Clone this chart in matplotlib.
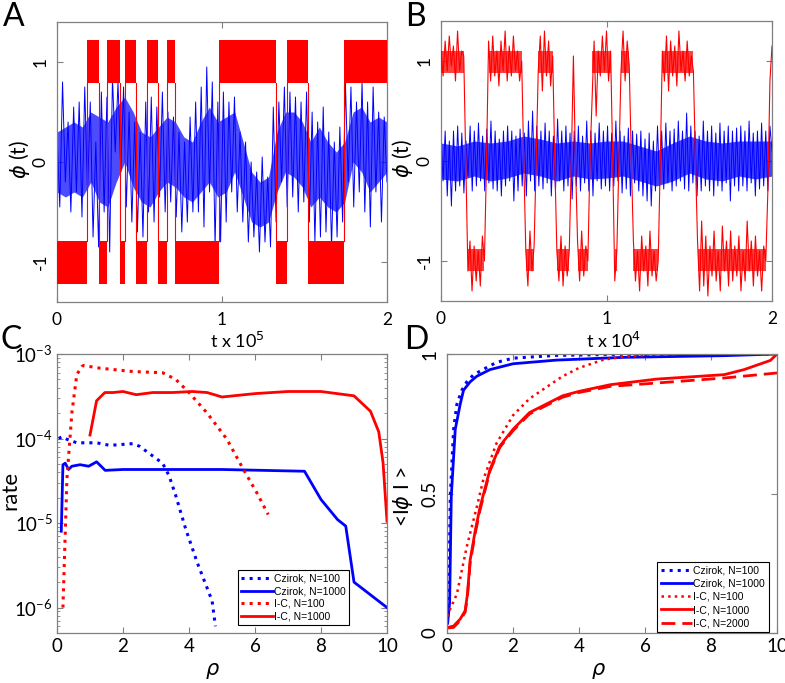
import numpy as np
import matplotlib
matplotlib.use("Agg")
import matplotlib.pyplot as plt
from matplotlib.ticker import LogLocator, NullFormatter, FixedLocator

plt.rcParams['font.family'] = ['Lato', 'DejaVu Sans']
plt.rcParams['axes.unicode_minus'] = False

RED = '#ff0000'
BLUE = '#0000ff'
SPINE = '#808080'

# ---------------- Panel A data (t in units of 1e5) ----------------
a_red_switch = [0, 0.182, 0.255, 0.305, 0.382, 0.412, 0.477, 0.545, 0.614,
                0.665, 0.717, 0.984, 1.329, 1.392, 1.521, 1.741, 2.0]
a_red_state = [-1, 1, -1, 1, -1, 1, -1, 1, -1, 1, -1, 1, -1, 1, -1, 1]
a_red_band = [0.79, 1.22]

a_blue = [0.3, -0.45, 0.8, -0.2, 0.4, -0.5, 0.55, -0.3, 0.6, -0.55,
          0.75, -0.3, 0.6, -0.75, 0.2, -0.85, 0.7, -0.5, 0.65, -0.9,
          0.85, 0.1, 0.8, -0.1, 0.75, -0.45, 0.5, -0.6, 0.4, -0.7,
          0.3, -0.75, 0.6, -0.5, 0.65, -0.6, 0.55, -0.35, 0.7, -0.5,
          0.5, -0.4, 0.45, -0.55, 0.3, -0.7, 0.2, -0.6, 0.45, -0.5,
          0.6, -0.5, 0.75, -0.65, 0.95, -0.3, 0.8, -0.85, 0.6, -0.8,
          0.7, -0.6, 0.6, -0.3, 0.65, -0.5, 0.3, -0.6, 0.2, -0.8,
          0.0, -0.75, -0.1, -0.9, 0.05, -0.8, -0.15, -0.85, 0.55, -0.6,
          0.6, -0.2, 0.75, -0.45, 0.7, -0.35, 0.65, -0.5, 0.6, -0.4,
          0.7, -0.6, 0.5, -0.8, 0.4, -0.75, 0.55, -0.7, 0.3, -0.85,
          0.2, -0.75, 0.35, -0.6, 0.8, -0.2, 0.75, -0.45, 0.6, -0.3,
          0.8, -0.5, 0.6, -0.65, 0.75, -0.3, 0.5, -0.6, 0.45, -0.2]
# dense core of the blue trace (lower / upper edge, 40 samples over 0..2)
a_blue_core_lo = [-0.3, -0.35, -0.3, -0.35, -0.2, -0.4, -0.45, -0.2, 0.0, -0.25,
                  -0.4, -0.45, -0.3, -0.2, -0.25, -0.35, -0.4, -0.3, -0.2, -0.35,
                  -0.3, -0.1, -0.35, -0.6, -0.65, -0.6, -0.3, -0.1, -0.15, -0.25,
                  -0.45, -0.35, -0.45, -0.5, -0.4, 0.0, -0.1, -0.3, -0.2, -0.1]
a_blue_core_hi = [0.3, 0.35, 0.4, 0.35, 0.5, 0.45, 0.4, 0.55, 0.65, 0.5,
                  0.3, 0.25, 0.35, 0.45, 0.4, 0.25, 0.2, 0.4, 0.55, 0.4,
                  0.45, 0.5, 0.2, -0.1, -0.2, -0.15, 0.3, 0.5, 0.5, 0.4,
                  0.2, 0.35, 0.2, 0.1, 0.2, 0.5, 0.55, 0.4, 0.45, 0.4]

# ---------------- Panel B data (t in units of 1e4) ----------------
b_blue = [0.25, -0.2, 0.3, -0.35, 0.2, -0.45, 0.3, -0.3, 0.35, -0.25, 0.28, -0.32, 0.2, -0.15, 0.35, -0.3,
          0.3, -0.25, 0.38, -0.2, 0.25, -0.3, 0.32, -0.22, 0.4, -0.28, 0.3, -0.3, 0.22, -0.35, 0.3, -0.25,
          0.35, -0.2, 0.3, -0.4, 0.25, -0.3, 0.32, -0.25, 0.28, -0.35, 0.4, -0.2, 0.5, -0.3, 0.35, -0.25,
          0.3, -0.28, 0.38, -0.22, 0.3, -0.35, 0.25, -0.3, 0.42, -0.2, 0.3, -0.3, 0.35, -0.25, 0.28, -0.38,
          0.3, -0.25, 0.35, -0.3, 0.25, -0.22, 0.4, -0.3, 0.3, -0.35, 0.28, -0.2, 0.38, -0.28, 0.3, -0.25,
          0.35, -0.3, 0.28, -0.25, 0.4, -0.2, 0.3, -0.32, 0.25, -0.28, 0.33, -0.35, 0.3, -0.22, 0.27, -0.3,
          0.3, -0.35, 0.22, -0.4, 0.28, -0.45, 0.2, -0.3, 0.35, -0.25, 0.3, -0.28, 0.38, -0.22, 0.3, -0.3,
          0.32, -0.25, 0.4, -0.2, 0.3, -0.28, 0.48, -0.3, 0.35, -0.22, 0.3, -0.35, 0.25, -0.3, 0.4, -0.25,
          0.3, -0.3, 0.35, -0.35, 0.28, -0.25, 0.38, -0.3, 0.3, -0.22, 0.35, -0.4, 0.3, -0.25, 0.33, -0.3,
          0.35, -0.25, 0.3, -0.3, 0.4, -0.22, 0.28, -0.35, 0.3, -0.28, 0.38, -0.25, 0.3, -0.3, 0.35, 0.1]
b_blue_core_lo = [-0.18, -0.2, -0.15, -0.2, -0.17, -0.12, -0.15, -0.2, -0.15, -0.18, -0.17,
                  -0.15, -0.2, -0.25, -0.2, -0.12, -0.18, -0.2, -0.15, -0.18, -0.15]
b_blue_core_hi = [0.18, 0.15, 0.2, 0.18, 0.2, 0.25, 0.22, 0.18, 0.2, 0.18, 0.2,
                  0.2, 0.15, 0.1, 0.18, 0.25, 0.2, 0.18, 0.2, 0.2, 0.2]

b_red = [1.1, 0.85, 1.2, 0.9, 1.25, 0.95, 1.15, 0.8, 1.3, 0.9, 1.1, 1.05,
         0.0,
         -1.1, -0.8, -1.3, -0.85, -1.2, -0.9, -1.25, -0.75, -1.0,
         0.0,
         1.2, 0.8, 1.25, 0.85, 1.1, 0.75, 1.2, 0.9, 1.3, 0.8, 1.15, 0.85, 1.25, 0.9, 1.1, 0.8, 1.0,
         0.0,
         -0.9, -1.25, -0.7, -1.1, -0.85,
         0.0,
         0.9, 1.25, 0.7, 1.3, 0.85, 1.2, 0.75, 1.05,
         0.0,
         -0.9, -1.2, -0.75, -1.25, -0.85, -1.15, -0.9,
         0.0, 1.05, 0.0,
         -0.8, -1.2, -0.7, -1.15, -0.85, -1.0,
         0.0,
         0.6, 1.2, 0.45, 1.1, 0.85, 1.25, 0.9, 1.3, 0.8, 1.1,
         0.0,
         -1.2, -0.9,
         0.0,
         0.9, 1.3, 0.8, 1.2, 0.95,
         0.0,
         -0.8, -1.2, -0.9, -1.3, -0.75, -1.1, -0.85, -1.25, -0.7, -1.15, -0.9, -1.2, -1.0,
         0.0,
         1.1, 0.8, 1.25, 0.7, 1.2, 0.85, 1.15, 0.75, 1.3, 0.9, 1.1, 0.8, 1.2, 0.85, 1.05, 0.9,
         0.0,
         -0.8, -1.3, -0.6, -1.25, -0.75, -1.35, -0.85, -1.15, -0.7, -1.2, -0.9, -1.3, -0.65, -1.1,
         -0.8, -1.25, -0.7, -1.2, -0.85, -1.15, -0.75, -1.3, -0.9, -1.2, -0.6, -1.1, -0.8, -1.25,
         -0.75, -1.15, -0.9, -1.3, -0.85, -1.0,
         -0.3, 0.8, 1.15]
# dense core of the red trace: segment start, end, state
b_red_seg_start = [0.0, 0.1625, 0.2875, 0.5125, 0.5875, 0.70, 0.825, 0.9125, 1.05, 1.0875, 1.1625, 1.3375, 1.55]
b_red_seg_end = [0.1375, 0.2625, 0.4875, 0.5625, 0.675, 0.775, 0.8875, 1.025, 1.0625, 1.1375, 1.3125, 1.525, 1.9625]
b_red_seg_state = [1, -1, 1, -1, 1, -1, -1, 1, -1, 1, -1, 1, -1]
b_red_core = [0.88, 1.1]

# ---------------- Panel C data (rate vs rho) ----------------
c_cz100_rho = [0.05, 0.15, 0.3, 0.6, 1.2, 1.6, 2.3, 2.5, 3.2, 3.4, 3.6, 3.9, 4.25, 4.55, 4.7, 4.8]
c_cz100_rate = [1.0e-4, 1.05e-4, 9.8e-5, 8.9e-5, 8.9e-5, 8.3e-5, 8.7e-5, 8.1e-5, 5.1e-5,
                3.6e-5, 2.1e-5, 8.5e-6, 3.4e-6, 1.7e-6, 1.2e-6, 6e-7]
c_cz1000_rho = [0.13, 0.18, 0.25, 0.35, 0.45, 0.7, 0.96, 1.2, 1.46, 2.0, 3.0, 5.0, 7.5,
                8.0, 8.5, 8.75, 9.0, 10.0]
c_cz1000_rate = [8e-6, 4.9e-5, 5.1e-5, 4.3e-5, 4.7e-5, 4.9e-5, 4.7e-5, 5.3e-5, 4.2e-5,
                 4.3e-5, 4.3e-5, 4.3e-5, 4.1e-5, 1.9e-5, 1.1e-5, 9.2e-6, 2.0e-6, 1.0e-6]
c_ic100_rho = [0.18, 0.3, 0.45, 0.6, 0.75, 0.8, 1.3, 2.3, 3.2, 3.6, 4.0, 4.55, 5.15, 5.65, 6.05, 6.4]
c_ic100_rate = [1e-6, 3.3e-5, 2.0e-4, 5.7e-4, 7.1e-4, 7.3e-4, 6.8e-4, 6.2e-4, 6.0e-4,
                5.0e-4, 3.5e-4, 2.0e-4, 9.8e-5, 4.3e-5, 2.3e-5, 1.26e-5]
c_ic1000_rho = [1.0, 1.2, 1.45, 1.7, 2.0, 2.4, 2.9, 3.5, 4.1, 4.55, 5.0, 6.0, 7.0, 8.0,
                9.0, 9.5, 9.75, 9.88, 10.0]
c_ic1000_rate = [1.1e-4, 2.8e-4, 3.5e-4, 3.5e-4, 3.6e-4, 3.3e-4, 3.5e-4, 3.5e-4, 3.6e-4,
                 3.5e-4, 3.1e-4, 3.4e-4, 3.6e-4, 3.6e-4, 3.2e-4, 2.1e-4, 1.2e-4, 5.2e-5, 1.05e-5]

# ---------------- Panel D data (<|phi|> vs rho) ----------------
d_cz100_rho = [0.02, 0.05, 0.1, 0.2, 0.3, 0.45, 0.6, 0.8, 1.1, 1.5, 2.0, 3.3, 5.35, 10.0]
d_cz100_val = [0.06, 0.1, 0.49, 0.73, 0.82, 0.87, 0.90, 0.925, 0.945, 0.97, 0.985, 0.995, 0.999, 1.0]
d_cz1000_rho = [0.02, 0.08, 0.13, 0.25, 0.4, 0.5, 0.7, 0.9, 1.3, 2.0, 3.3, 5.35, 8.4, 10.0]
d_cz1000_val = [0.035, 0.11, 0.49, 0.73, 0.82, 0.87, 0.90, 0.92, 0.944, 0.965, 0.978, 0.988, 0.994, 1.0]
d_ic100_rho = [0.0, 0.3, 0.6, 0.9, 1.1, 1.5, 2.0, 2.5, 3.0, 3.5, 4.0, 4.75, 5.35, 6.4]
d_ic100_val = [0.06, 0.14, 0.31, 0.45, 0.55, 0.68, 0.78, 0.84, 0.88, 0.92, 0.95, 0.98, 0.99, 1.0]
d_ic1000_rho = [0.02, 0.2, 0.4, 0.55, 0.62, 0.7, 0.86, 1.0, 1.3, 1.6, 2.0, 2.5, 3.0, 3.5,
                4.0, 4.95, 6.35, 8.4, 9.0, 9.8, 10.0]
d_ic1000_val = [0.02, 0.025, 0.05, 0.08, 0.14, 0.26, 0.37, 0.45, 0.585, 0.67, 0.73, 0.79,
                0.82, 0.85, 0.866, 0.89, 0.91, 0.926, 0.944, 0.977, 1.0]
d_ic2000_rho = [0.02, 0.2, 0.4, 0.55, 0.62, 0.7, 0.86, 1.0, 1.3, 1.6, 2.0, 2.5, 3.0, 3.5,
                4.0, 4.95, 6.35, 8.4, 10.0]
d_ic2000_val = [0.018, 0.02, 0.045, 0.075, 0.13, 0.25, 0.36, 0.44, 0.58, 0.665, 0.725, 0.785,
                0.815, 0.845, 0.862, 0.884, 0.896, 0.914, 0.932]

labels_c = ['Czirok, N=100', 'Czirok, N=1000', 'I-C, N=100', 'I-C, N=1000']
labels_d = labels_c + ['I-C, N=2000']

fig = plt.figure(figsize=(7.85, 6.83), dpi=100)

W, H = 785.0, 683.0
def rect(l, t, r, b):
    return [l / W, 1 - b / H, (r - l) / W, (b - t) / H]

axA = fig.add_axes(rect(57, 22, 387, 302))
axB = fig.add_axes(rect(441, 21, 772, 301))
axC = fig.add_axes(rect(57, 354, 387, 633))
axD = fig.add_axes(rect(447, 354, 777, 633))

def style(ax):
    for s in ax.spines.values():
        s.set_color(SPINE)
        s.set_linewidth(0.9)
    ax.tick_params(direction='in', top=True, right=True, colors=SPINE,
                   labelcolor='black', labelsize=12.5, length=4, width=0.8)
    ax.tick_params(which='minor', direction='in', top=True, right=True,
                   colors=SPINE, length=2, width=0.6)

# ---- A ----
tA = np.linspace(0, 2, len(a_blue))
tAc = np.linspace(0, 2, len(a_blue_core_lo))
axA.fill_between(tAc, a_blue_core_lo, a_blue_core_hi, color=BLUE, alpha=0.7, lw=0, zorder=2)
axA.plot(tA, a_blue, color=BLUE, lw=0.7, zorder=2)
for i, s in enumerate(a_red_state):
    t0, t1 = a_red_switch[i], a_red_switch[i + 1]
    axA.fill_between([t0, t1], s * a_red_band[0], s * a_red_band[1],
                     color=RED, lw=0, zorder=3)
for i in range(1, len(a_red_switch) - 1):
    t = a_red_switch[i]
    axA.plot([t, t], [-a_red_band[0], a_red_band[0]], color=RED, lw=0.8, zorder=3)
axA.set_xlim(0, 2)
axA.set_ylim(-1.4, 1.4)

# ---- B ----
tBb = np.linspace(0, 2, len(b_blue))
tBc = np.linspace(0, 2, len(b_blue_core_lo))
tBr = np.linspace(0, 2, len(b_red))
axB.fill_between(tBc, b_blue_core_lo, b_blue_core_hi, color=BLUE, alpha=0.75, lw=0, zorder=2)
axB.plot(tBb, b_blue, color=BLUE, lw=0.7, zorder=2)
for t0, t1, s in zip(b_red_seg_start, b_red_seg_end, b_red_seg_state):
    axB.fill_between([t0, t1], s * b_red_core[0], s * b_red_core[1],
                     color=RED, alpha=0.75, lw=0, zorder=3)
axB.plot(tBr, b_red, color=RED, lw=0.8, zorder=3)
axB.set_xlim(0, 2)
axB.set_ylim(-1.4, 1.4)

for ax, xl, lx, ly in ((axA, 't x 10$^5$', 0.545, -0.076), (axB, 't x 10$^4$', 0.52, -0.079)):
    style(ax)
    ax.set_xticks([0, 1, 2])
    ax.set_yticks([-1, 0, 1])
    ax.set_yticklabels(['-1', '0', '1'], rotation=90, va='center')
    ax.set_xlabel(xl, fontsize=13)
    ax.xaxis.set_label_coords(lx, -0.105)
    ax.set_ylabel(r'$\phi$ (t)', fontsize=15)
    ax.yaxis.set_label_coords(ly, 0.51)
    ax.tick_params(axis='x', pad=7)
    ax.tick_params(axis='y', pad=6)

# ---- C ----
axC.semilogy(c_cz100_rho, c_cz100_rate, color=BLUE, ls=':', lw=2.2, label=labels_c[0])
axC.semilogy(c_cz1000_rho, c_cz1000_rate, color=BLUE, ls='-', lw=2.0, label=labels_c[1])
axC.semilogy(c_ic100_rho, c_ic100_rate, color=RED, ls=':', lw=2.2, label=labels_c[2])
axC.semilogy(c_ic1000_rho, c_ic1000_rate, color=RED, ls='-', lw=2.0, label=labels_c[3])
axC.set_xlim(0, 10)
axC.set_ylim(5e-7, 1e-3)
style(axC)
axC.set_xticks([0, 2, 4, 6, 8, 10])
axC.yaxis.set_major_locator(FixedLocator([1e-6, 1e-5, 1e-4, 1e-3]))
axC.yaxis.set_minor_locator(LogLocator(base=10, subs=np.arange(2, 10)))
axC.yaxis.set_minor_formatter(NullFormatter())
axC.tick_params(axis='both', labelsize=13.5)
axC.tick_params(axis='y', pad=3)
axC.set_xlabel(r'$\rho$', fontsize=15)
axC.xaxis.set_label_coords(0.47, -0.1)
axC.set_ylabel('rate', fontsize=16)
axC.yaxis.set_label_coords(-0.112, 0.51)
legC = axC.legend(loc='lower right', bbox_to_anchor=(0.885, 0.028),
                  prop={'family': ['Liberation Sans'], 'size': 7.5},
                  handlelength=3.0, handletextpad=0.1, labelspacing=0.25,
                  borderpad=0.35, borderaxespad=0, fancybox=False, framealpha=1)
legC.get_frame().set_edgecolor('black')
legC.get_frame().set_linewidth(0.8)

# ---- D ----
axD.plot(d_cz100_rho, d_cz100_val, color=BLUE, ls=':', lw=2.2, label=labels_d[0])
axD.plot(d_cz1000_rho, d_cz1000_val, color=BLUE, ls='-', lw=2.0, label=labels_d[1])
axD.plot(d_ic100_rho, d_ic100_val, color=RED, ls=':', lw=1.8, label=labels_d[2])
axD.plot(d_ic1000_rho, d_ic1000_val, color=RED, ls='-', lw=2.0, label=labels_d[3])
axD.plot(d_ic2000_rho, d_ic2000_val, color=RED, ls=(0, (5, 2.5)), lw=2.0, label=labels_d[4])
axD.set_xlim(0, 10)
axD.set_ylim(0, 1)
style(axD)
axD.set_xticks([0, 2, 4, 6, 8, 10])
axD.set_yticks([0, 0.5, 1])
axD.set_yticklabels(['0', '0.5', '1'], rotation=90, va='center')
axD.tick_params(axis='both', labelsize=13.5)
axD.tick_params(axis='y', pad=6)
axD.set_xlabel(r'$\rho$', fontsize=15)
axD.xaxis.set_label_coords(0.458, -0.1)
axD.set_ylabel(r'<I$\phi$ I >', fontsize=15)
axD.yaxis.set_label_coords(-0.097, 0.487)
legD = axD.legend(loc='lower right', bbox_to_anchor=(0.975, 0.004),
                  prop={'family': ['Liberation Sans'], 'size': 7.5},
                  handlelength=3.0, handletextpad=0.1, labelspacing=0.3,
                  borderpad=0.35, borderaxespad=0, fancybox=False, framealpha=1)
legD.get_frame().set_edgecolor('black')
legD.get_frame().set_linewidth(0.8)

# Panel letters
for txt, x, y in (('A', 3, 2), ('B', 405, 2), ('C', 0, 325), ('D', 404, 325)):
    fig.text(x / W, 1 - y / H, txt, fontsize=23, va='top', ha='left')

fig.savefig('out.png', dpi=100)
